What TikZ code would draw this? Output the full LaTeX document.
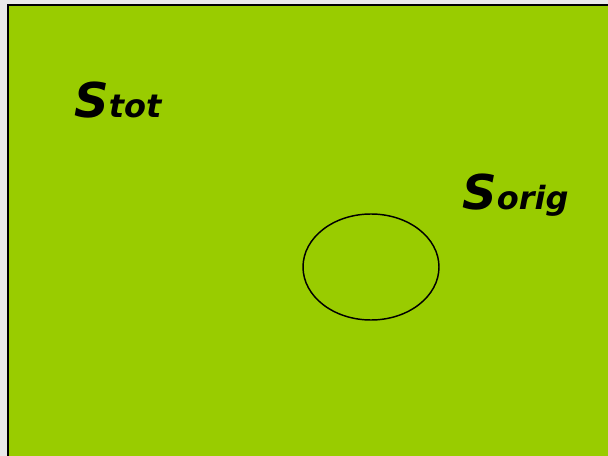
\documentclass[tikz,border=0pt]{standalone}
\usepackage{fontspec}
\newfontfamily\setfont{DejaVu Sans}
\usetikzlibrary{shapes.geometric}
\definecolor{slidegreen}{HTML}{99CC00}
\definecolor{slidegray}{HTML}{E9E9E9}

\begin{document}
\begin{tikzpicture}[x=0.75pt, y=-0.75pt,
    setlabel/.style={anchor=base west, inner sep=0pt,
      font=\setfont\bfseries\itshape\fontsize{24}{28}\selectfont}]
    % Draw background and the green slide
    \fill[slidegray] (0,0) rectangle (608,456);
    \useasboundingbox (0,0) rectangle (608,456);
    \fill[slidegreen] (8,5) rectangle (608,456);
    \draw[line width=1.5pt] (8,456) -- (8,5) -- (608,5);

    % Draw set labels
    \node[setlabel] (stot) at (74,118) {{\fontsize{36}{40}\selectfont S}tot};
    \node[setlabel] (sorig) at (462,210) {{\fontsize{36}{40}\selectfont S}orig};

    % Draw the original set
    \node[draw, ellipse, line width=1.1pt, minimum width=102pt, minimum height=79.5pt,
      inner sep=0pt] (orig) at (371,267) {};
  \end{tikzpicture}
\end{document}
